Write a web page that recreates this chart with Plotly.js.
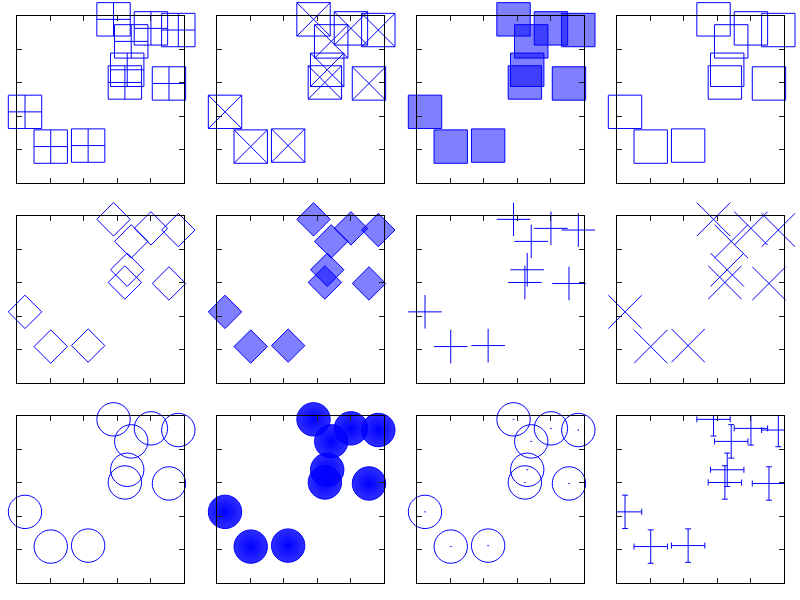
<!DOCTYPE html>
<html>
<head>
<meta charset="utf-8">
<script src="https://cdn.plot.ly/plotly-3.0.1.min.js"></script>
<style>html,body{margin:0;padding:0;background:#fff;}#chart{width:800px;height:600px;}</style>
</head>
<body>
<div id="chart"></div>
<script>
// Data (same 10 points in every panel)
var xValues = [2.89, 4.01, 4.83, 3.42, 3.30, 3.23, 4.55, 0.24, 1.01, 2.13];
var yValues = [4.90, 4.63, 4.58, 4.24, 3.39, 3.01, 2.98, 2.13, 1.09, 1.12];
var errValue = 0.5;
var tickValues = [1, 2, 3, 4];

var BLUE = '#0000ff';
var HALF = 'rgba(0,0,255,0.5)';

// panel styles, row by row
var panels = [
  {symbol: 'square-cross-open', size: 33.4},
  {symbol: 'square-x-open', size: 33.4},
  {symbol: 'square', size: 33.4, color: HALF},
  {symbol: 'square-open', size: 33.4},
  {symbol: 'diamond-open', size: 25.7},
  {symbol: 'diamond', size: 25.7, color: HALF},
  {symbol: 'cross-thin-open', size: 24},
  {symbol: 'x-thin-open', size: 33.4},
  {symbol: 'circle-open', size: 33.4},
  {symbol: 'circle', size: 33.4, color: 'rgba(0,0,255,0.82)', gradient: {type: 'radial', color: BLUE}},
  {symbol: 'circle-open-dot', size: 33.4},
  {errorbars: true}
];

var colLeft = [17, 217, 417, 617];
var rowTop = [16, 216, 416];
var boxSize = 167;

var traces = [];
var layout = {
  width: 800, height: 600,
  margin: {l: 0, r: 0, t: 0, b: 0},
  paper_bgcolor: '#ffffff', plot_bgcolor: '#ffffff',
  showlegend: false
};

panels.forEach(function (p, i) {
  var n = i + 1;
  var xa = n === 1 ? 'x' : 'x' + n;
  var ya = n === 1 ? 'y' : 'y' + n;
  var r = Math.floor(i / 4), c = i % 4;
  var x0 = colLeft[c] / 800, x1 = (colLeft[c] + boxSize) / 800;
  var y1 = 1 - rowTop[r] / 600, y0 = 1 - (rowTop[r] + boxSize) / 600;
  var axisStyle = {
    range: [0, 5], showgrid: false, zeroline: false, showline: true,
    linecolor: '#000', linewidth: 1, mirror: 'ticks',
    ticks: 'inside', ticklen: 5, tickwidth: 1, tickcolor: '#222',
    tickmode: 'array', tickvals: tickValues, showticklabels: false, fixedrange: true
  };
  layout['xaxis' + (n === 1 ? '' : n)] = Object.assign({}, axisStyle, {domain: [x0, x1], anchor: ya});
  layout['yaxis' + (n === 1 ? '' : n)] = Object.assign({}, axisStyle, {domain: [y0, y1], anchor: xa});

  var t = {
    type: 'scatter', x: xValues, y: yValues, xaxis: xa, yaxis: ya,
    mode: 'markers', cliponaxis: false, hoverinfo: 'none'
  };
  if (p.errorbars) {
    t.marker = {size: 1, color: 'rgba(0,0,0,0)'};
    t.error_x = {type: 'constant', value: errValue, color: BLUE, thickness: 1, width: 3};
    t.error_y = {type: 'constant', value: errValue, color: BLUE, thickness: 1, width: 3};
  } else {
    t.marker = {
      symbol: p.symbol, size: p.size,
      color: p.color || BLUE,
      line: {color: BLUE, width: 1}
    };
    if (p.gradient) t.marker.gradient = p.gradient;
  }
  traces.push(t);
});

Plotly.newPlot('chart', traces, layout, {displayModeBar: false, staticPlot: true});
</script>
</body>
</html>
